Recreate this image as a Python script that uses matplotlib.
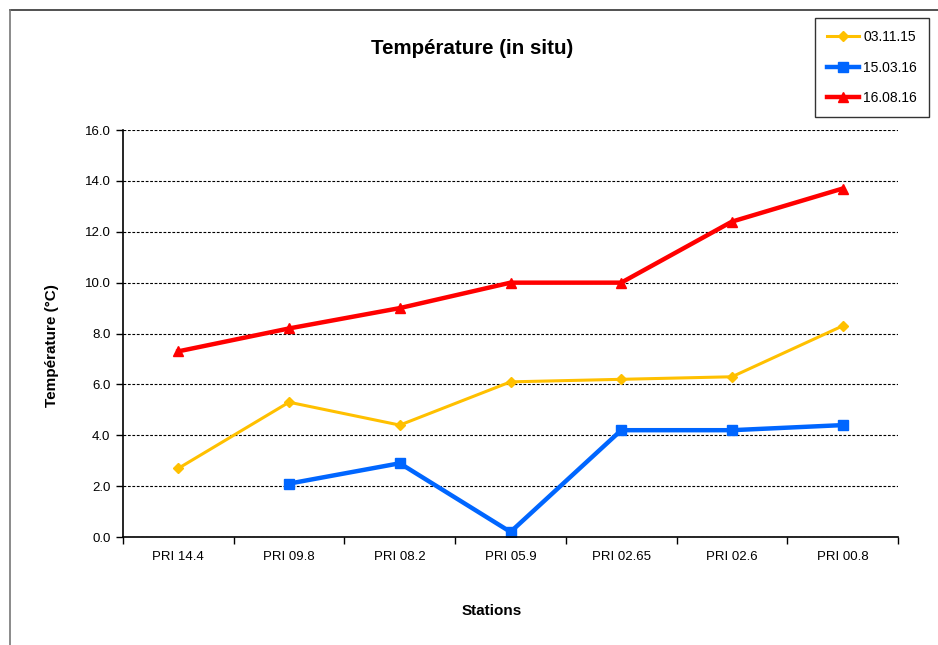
import matplotlib
matplotlib.use("Agg")
import matplotlib.pyplot as plt
from matplotlib.lines import Line2D
import numpy as np

plt.rcParams['font.family'] = ['Liberation Sans', 'DejaVu Sans']

stations = ["PRI 14.4", "PRI 09.8", "PRI 08.2", "PRI 05.9", "PRI 02.65", "PRI 02.6", "PRI 00.8"]
s_031115 = [2.7, 5.3, 4.4, 6.1, 6.2, 6.3, 8.3]
s_150316 = [np.nan, 2.1, 2.9, 0.2, 4.2, 4.2, 4.4]
s_160816 = [7.3, 8.2, 9.0, 10.0, 10.0, 12.4, 13.7]
labels = ["03.11.15", "15.03.16", "16.08.16"]
yticks = [0, 2, 4, 6, 8, 10, 12, 14, 16]

fig = plt.figure(figsize=(9.38, 6.45), dpi=100)
ax = fig.add_axes([0.1311, 0.1674, 0.8263, 0.631])

x = np.arange(len(stations))
l1, = ax.plot(x, s_031115, color='#FFC000', lw=2.2, marker='D', ms=5, label=labels[0])
l2, = ax.plot(x, s_150316, color='#0066FF', lw=3.2, marker='s', ms=7, label=labels[1])
l3, = ax.plot(x, s_160816, color='#FF0000', lw=3.2, marker='^', ms=7, label=labels[2])

ax.set_xlim(-0.5, len(stations) - 0.5)
ax.set_ylim(0, 16)
ax.set_yticks(yticks)
ax.set_yticklabels([f"{v:.1f}" for v in yticks], fontsize=9.5)
ax.set_xticks(x)
ax.set_xticklabels(stations, fontsize=9.5)
ax.tick_params(axis='x', length=0, pad=10)
ax.set_xticks(np.arange(-0.5, len(stations), 1.0), minor=True)
ax.tick_params(axis='x', which='minor', length=5, width=1, direction='out')
ax.tick_params(axis='y', length=5, width=1, direction='out', pad=4)
ax.yaxis.grid(True, color='black', linestyle=(0, (2.5, 1.5)), lw=0.8)
ax.set_axisbelow(True)
for sp in ['top', 'right']:
    ax.spines[sp].set_visible(False)
ax.spines['left'].set_linewidth(1.2)
ax.spines['bottom'].set_linewidth(1.2)

ax.set_xlabel("Stations", fontsize=11, fontweight='bold')
ax.set_ylabel("Température (°C)", fontsize=11, fontweight='bold')
ax.xaxis.set_label_coords(0.476, -0.165)
ax.yaxis.set_label_coords(-0.083, 0.47)

fig.text(0.503, 0.925, "Température (in situ)", fontsize=14.8, fontweight='bold',
         ha='center', va='center')

leg = fig.legend(handles=[l1, l2, l3], loc='upper left',
                 bbox_to_anchor=(0.869, 0.972), fontsize=10,
                 frameon=True, fancybox=False, edgecolor='black',
                 handlelength=2.3, handletextpad=0.3, labelspacing=1.2,
                 borderpad=0.85, borderaxespad=0)
leg.get_frame().set_linewidth(1.0)

# figure border lines (top and left)
fig.add_artist(Line2D([10/938, 1.0], [1 - 10/645, 1 - 10/645], transform=fig.transFigure,
                      color='#333333', lw=1.2))
fig.add_artist(Line2D([10/938, 10/938], [0, 1 - 10/645], transform=fig.transFigure,
                      color='#777777', lw=1.2))

fig.savefig("out.png", dpi=100)
